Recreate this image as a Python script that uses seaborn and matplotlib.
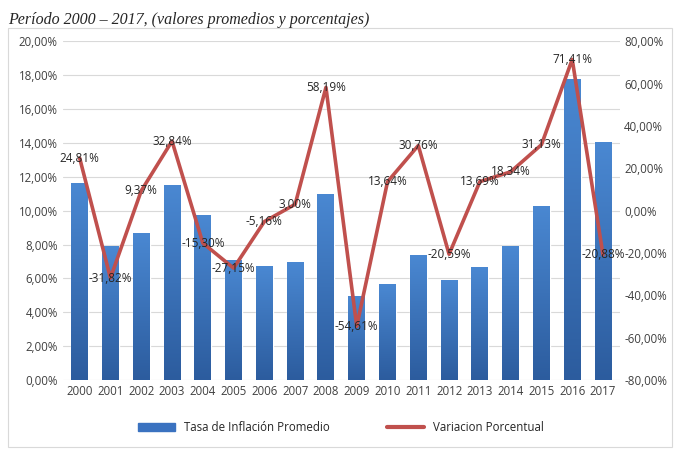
import matplotlib
matplotlib.use("Agg")
import matplotlib.pyplot as plt
import matplotlib.patches as mpatches
from matplotlib.colors import LinearSegmentedColormap
from matplotlib.ticker import FuncFormatter
import numpy as np
import pandas as pd
import seaborn as sns

# datos
years = [str(y) for y in range(2000, 2018)]
inflacion = [11.62, 7.90, 8.67, 11.50, 9.73, 7.08, 6.72, 6.96, 10.97, 4.96,
             5.66, 7.37, 5.90, 6.67, 7.90, 10.30, 17.76, 14.04]
variacion = [24.81, -31.82, 9.37, 32.84, -15.30, -27.15, -5.16, 3.00, 58.19, -54.61,
             13.64, 30.76, -20.59, 13.69, 18.34, 31.13, 71.41, -20.88]

df = pd.DataFrame({"anio": years, "inflacion": inflacion, "variacion": variacion})

sns.set_style("white")
plt.rcParams["font.family"] = ["Open Sans", "DejaVu Sans"]

fig = plt.figure(figsize=(6.82, 4.53), dpi=100)
ax = fig.add_axes([0.092, 0.161, 0.817, 0.748])

# marco del grafico
fig.patches.append(mpatches.FancyBboxPatch((0.012, 0.013), 0.974, 0.925,
                                           boxstyle="square,pad=0", transform=fig.transFigure,
                                           fill=False, edgecolor="#D9D9D9", linewidth=0.8))
fig.text(0.012, 0.955, "Período 2000 – 2017, (valores promedios y porcentajes)",
         family="Liberation Serif", style="italic", fontsize=11.5, va="center")

sns.barplot(data=df, x="anio", y="inflacion", color="#3A72C0", width=0.55,
            ax=ax, zorder=2)

# degradado de las barras
cmap = LinearSegmentedColormap.from_list("azul", ["#2C5C9E", "#4A88D2"])
grad = np.linspace(0, 1, 256).reshape(-1, 1)
for p in ax.patches:
    x0, y0 = p.get_x(), p.get_y()
    w, h = p.get_width(), p.get_height()
    im = ax.imshow(grad, cmap=cmap, origin="lower", aspect="auto",
                   extent=[x0, x0 + w, y0, y0 + h], zorder=2)
    im.set_clip_path(p)
    p.set_facecolor("none")

ax.set_ylim(0, 20)
ax.set_xlim(-0.55, 17.55)
ax.set_yticks(np.arange(0, 20.1, 2))
ax.yaxis.set_major_formatter(FuncFormatter(lambda v, _: f"{v:.2f}%".replace(".", ",")))
ax.grid(axis="y", color="#D9D9D9", linewidth=0.8, zorder=0)
ax.set_axisbelow(True)
ax.set_xlabel("")
ax.set_ylabel("")
for s in ax.spines.values():
    s.set_visible(False)
ax.tick_params(axis="both", labelsize=8.3, length=0, colors="#404040")

ax2 = ax.twinx()
sns.lineplot(x=np.arange(len(years)), y=variacion, ax=ax2, color="#C0504D",
             linewidth=2.6, zorder=3)
ax2.set_ylim(-80, 80)
ax2.set_yticks(np.arange(-80, 80.1, 20))
ax2.yaxis.set_major_formatter(FuncFormatter(lambda v, _: f"{v:.2f}%".replace(".", ",")))
for s in ax2.spines.values():
    s.set_visible(False)
ax2.tick_params(axis="y", labelsize=8.3, length=0, colors="#404040", pad=3)

for i, v in enumerate(variacion):
    ax2.text(i, v, f"{v:.2f}%".replace(".", ","), ha="center", va="center",
             fontsize=8.5, color="#262626", zorder=5)

handles = [mpatches.Patch(color="#3A72C0", label="Tasa de Inflación Promedio"),
           plt.Line2D([], [], color="#C0504D", linewidth=3, label="Variacion Porcentual")]
fig.legend(handles=handles, loc="center", bbox_to_anchor=(0.5, 0.057), ncol=2,
           frameon=False, fontsize=8.3, handlelength=3.2, columnspacing=5)

fig.savefig("out.png", dpi=100)
